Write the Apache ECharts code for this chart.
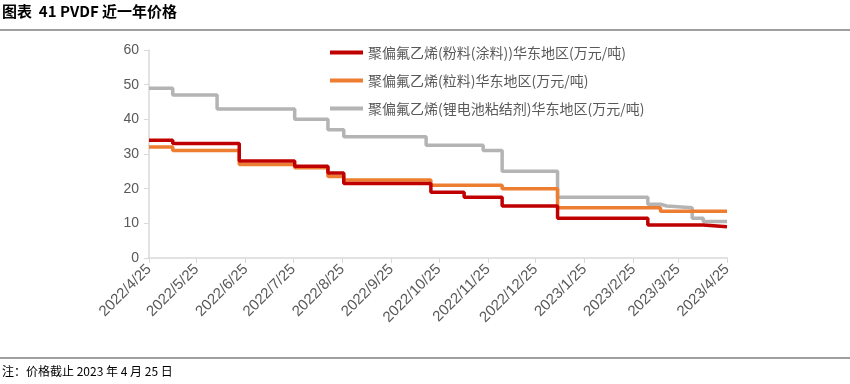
<!DOCTYPE html>
<html>
<head>
<meta charset="utf-8">
<script src="https://cdn.jsdelivr.net/npm/echarts@6/dist/echarts.min.js"></script>
<style>
  html, body { margin: 0; padding: 0; background: #fff; }
  #chart { width: 850px; height: 384px; }
</style>
</head>
<body>
<div id="chart"></div>
<script>
// 价格变动点（日期, 万元/吨）
const seriesNames = [
  '聚偏氟乙烯(粉料(涂料))华东地区(万元/吨)',
  '聚偏氟乙烯(粒料)华东地区(万元/吨)',
  '聚偏氟乙烯(锂电池粘结剂)华东地区(万元/吨)'
]
const powderDates = ['2022/4/25', '2022/5/10', '2022/6/21', '2022/7/26', '2022/8/16', '2022/8/26', '2022/10/20', '2022/11/10', '2022/12/4', '2023/1/8', '2023/3/6', '2023/4/10', '2023/4/25']
const powderValues = [34, 33, 28, 26.5, 24.5, 21.5, 19, 17.5, 15, 11.5, 9.5, 9, 9]
const pelletDates = ['2022/4/25', '2022/5/10', '2022/6/21', '2022/7/26', '2022/8/16', '2022/8/26', '2022/10/20', '2022/12/4', '2023/1/8', '2023/3/14', '2023/4/25']
const pelletValues = [32, 31, 27, 26, 23.5, 22.5, 21, 20, 14.5, 13.5, 13.5]
const binderDates = ['2022/4/25', '2022/5/10', '2022/6/7', '2022/7/26', '2022/8/16', '2022/8/26', '2022/10/17', '2022/11/22', '2022/12/4', '2023/1/8', '2023/3/6', '2023/3/14', '2023/3/18', '2023/4/3', '2023/4/10', '2023/4/25']
const binderValues = [49, 47, 43, 40, 37, 35, 32.5, 31, 25, 17.5, 15.5, 15, 14.5, 11.5, 10.5, 10.5]
const colors = ['#C00000', '#ED7D31', '#B4B4B4']

// 日期类目：2022/4/25 ~ 2023/4/25 逐日
const categories = []
for (let d = new Date(2022, 3, 25); d <= new Date(2023, 3, 25); d.setDate(d.getDate() + 1)) {
  categories.push(d.getFullYear() + '/' + (d.getMonth() + 1) + '/' + d.getDate())
}
const isTickDay = (index, value) => /\/25$/.test(value)

const pairs = (dates, values) => dates.map((d, i) => [d, values[i]])
const seriesData = [
  pairs(powderDates, powderValues),
  pairs(pelletDates, pelletValues),
  pairs(binderDates, binderValues)
]

const chart = echarts.init(document.getElementById('chart'))
const option = {
  animation: false,
  textStyle: { fontFamily: '"Noto Sans CJK SC", "Liberation Sans", sans-serif' },
  grid: { left: 149, right: 123, top: 50, bottom: 126 },
  legend: {
    orient: 'vertical',
    left: 325,
    top: 38,
    itemGap: 9,
    itemWidth: 33,
    itemHeight: 4,
    icon: 'rect',
    selectedMode: false,
    textStyle: { color: '#595959', fontSize: 14, lineHeight: 19 },
    data: seriesNames
  },
  xAxis: {
    type: 'category',
    data: categories,
    boundaryGap: false,
    axisLine: { lineStyle: { color: '#D9D9D9', width: 1.5 } },
    axisTick: { interval: isTickDay, length: 5, lineStyle: { color: '#D9D9D9' } },
    axisLabel: {
      interval: isTickDay,
      rotate: 45,
      color: '#595959',
      fontSize: 15,
      fontFamily: '"Liberation Sans", sans-serif',
      margin: 9
    },
    splitLine: { show: false }
  },
  yAxis: {
    type: 'value',
    min: 0,
    max: 60,
    interval: 10,
    axisLine: { show: true, lineStyle: { color: '#D9D9D9', width: 1.5 } },
    axisTick: { show: true, length: 5, lineStyle: { color: '#D9D9D9' } },
    axisLabel: { color: '#595959', fontSize: 14, fontFamily: '"Liberation Sans", sans-serif', margin: 10 },
    splitLine: { show: false }
  },
  series: seriesData.map((data, i) => ({
    name: seriesNames[i],
    type: 'line',
    step: 'end',
    data,
    symbol: 'none',
    z: 10 - i,
    itemStyle: { color: colors[i] },
    lineStyle: { color: colors[i], width: 3.5 }
  })),
  graphic: [
    {
      type: 'text', left: 2, top: 4,
      style: { text: '图表  41 PVDF 近一年价格', font: 'bold 15px "Noto Sans CJK SC", "Liberation Sans", sans-serif', fill: '#000' }
    },
    { type: 'line', shape: { x1: 0, y1: 30, x2: 850, y2: 30 }, style: { stroke: '#7F7F7F', lineWidth: 1.5 } },
    { type: 'line', shape: { x1: 0, y1: 358, x2: 850, y2: 358 }, style: { stroke: '#7F7F7F', lineWidth: 1.5 } },
    {
      type: 'text', left: 2, top: 365,
      style: { text: '注：价格截止 2023 年 4 月 25 日', font: '12px "Noto Sans CJK SC", sans-serif', fill: '#000' }
    }
  ]
}
chart.setOption(option)
</script>
</body>
</html>
